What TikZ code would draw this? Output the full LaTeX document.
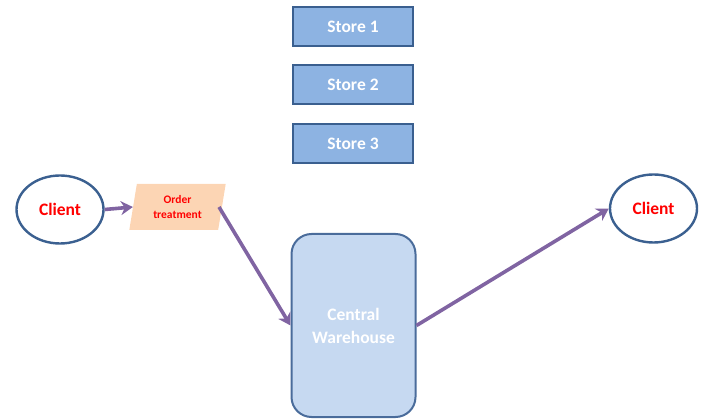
\documentclass[tikz,border=0pt]{standalone}
\usepackage{fontspec}
\setmainfont{Carlito}
\usetikzlibrary{shapes.geometric,arrows.meta}
\definecolor{storefill}{HTML}{8DB3E2}
\definecolor{storeedge}{HTML}{3A5F8F}
\definecolor{whfill}{HTML}{C6D9F1}
\definecolor{whedge}{HTML}{4A6C9B}
\definecolor{cliedge}{HTML}{3B6090}
\definecolor{ordfill}{HTML}{FCD5B4}
\definecolor{arr}{HTML}{8064A2}
\tikzset{
  storebox/.style={draw=storeedge, line width=2pt, fill=storefill, minimum width=120pt, minimum height=39pt, inner sep=0pt, text=white, font=\bfseries\fontsize{17.5}{20}\selectfont},
  clientnode/.style={draw=cliedge, line width=2.4pt, ellipse, fill=white, minimum width=87pt, minimum height=68pt, inner sep=0pt, text=red, font=\bfseries\fontsize{17.5}{20}\selectfont},
  flow/.style={draw=arr, line width=3.6pt, -{Stealth[length=12pt,width=14pt]}},
}
\begin{document}
\begin{tikzpicture}[x=1pt,y=-1pt]
\useasboundingbox (0,0) rectangle (704,419);
\node[storebox] (s1) at (353,26.5) {Store 1};
\node[storebox] (s2) at (353,84.5) {Store 2};
\node[storebox] (s3) at (353,143.5) {Store 3};
\node[clientnode] (c1) at (60,209.5) {Client};
\node[clientnode] (c2) at (653.5,208.5) {Client};
\node[trapezium, trapezium left angle=79, trapezium right angle=101, trapezium stretches=true, fill=ordfill, minimum width=97pt, minimum height=46pt, inner sep=0pt, text=red, font=\bfseries\fontsize{11.5}{15}\selectfont, align=center] (ord) at (177.5,207) {Order\\treatment};
\node[draw=whedge, line width=2pt, fill=whfill, rounded corners=20pt, minimum width=124pt, minimum height=183pt, inner sep=0pt, text=white, font=\bfseries\fontsize{17.5}{23}\selectfont, align=center] (wh) at (353.5,325.5) {Central\\Warehouse};
\coordinate (ordout) at (219,207);
\draw[flow] (c1.east) -- (ord.west);
\draw[flow] (ordout) -- (wh.west);
\draw[flow] (wh.east) -- (c2.west);
\end{tikzpicture}
\end{document}
